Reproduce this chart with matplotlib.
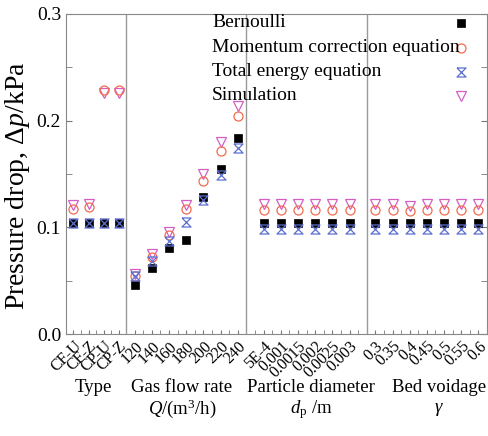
import numpy as np
import matplotlib
matplotlib.use("Agg")
import matplotlib.pyplot as plt
from matplotlib.path import Path

plt.rcParams["font.family"] = ["Liberation Serif", "DejaVu Serif"]
plt.rcParams["mathtext.fontset"] = "custom"
plt.rcParams["mathtext.rm"] = "Liberation Serif"
plt.rcParams["mathtext.it"] = "Liberation Serif:italic"

# groups along the x axis
type_labels = ["CF-U", "CF-Z", "CP-U", "CP-Z"]
gas_labels = ["120", "140", "160", "180", "200", "220", "240"]
dp_labels = ["5E-4", "0.001", "0.0015", "0.002", "0.0025", "0.003"]
void_labels = ["0.3", "0.35", "0.4", "0.45", "0.5", "0.55", "0.6"]

# pressure drop (kPa), per group
bern_type = [0.104, 0.104, 0.104, 0.104]
bern_gas = [0.046, 0.062, 0.081, 0.088, 0.128, 0.155, 0.184]
bern_dp = [0.104, 0.104, 0.104, 0.104, 0.104, 0.104]
bern_void = [0.104, 0.104, 0.104, 0.104, 0.104, 0.104, 0.104]

mom_type = [0.117, 0.119, 0.229, 0.229]
mom_gas = [0.054, 0.072, 0.093, 0.117, 0.143, 0.172, 0.204]
mom_dp = [0.116, 0.116, 0.116, 0.116, 0.116, 0.116]
mom_void = [0.116, 0.116, 0.115, 0.116, 0.116, 0.116, 0.116]

tot_type = [0.104, 0.104, 0.104, 0.104]
tot_gas = [0.054, 0.068, 0.087, 0.105, 0.126, 0.149, 0.174]
tot_dp = [0.098, 0.098, 0.098, 0.098, 0.098, 0.098]
tot_void = [0.098, 0.098, 0.098, 0.098, 0.098, 0.098, 0.098]

sim_type = [0.121, 0.122, 0.226, 0.226]
sim_gas = [0.056, 0.075, 0.096, 0.121, 0.150, 0.180, 0.214]
sim_dp = [0.122, 0.122, 0.122, 0.122, 0.122, 0.122]
sim_void = [0.122, 0.122, 0.120, 0.122, 0.122, 0.122, 0.122]

# layout of the groups: width, number of slots, offset of first point (in slots)
widths = [3.5, 7, 7, 7]
slots = [4, 7, 7, 7]
offsets = [0.5, 0.5, 1.0, 0.5]
group_labels = [type_labels, gas_labels, dp_labels, void_labels]

xs, minor, bounds = [], [], [0.0]
start = 0.0
for w, n, off, labs in zip(widths, slots, offsets, group_labels):
    s = w / n
    xs += [start + (off + k) * s for k in range(len(labs))]
    minor += [start + j * s / 2 for j in range(2 * n + 1)]
    start += w
    bounds.append(start)
xs = np.array(xs)
ticklabels = sum(group_labels, [])

bern = bern_type + bern_gas + bern_dp + bern_void
mom = mom_type + mom_gas + mom_dp + mom_void
tot = tot_type + tot_gas + tot_dp + tot_void
sim = sim_type + sim_gas + sim_dp + sim_void

# hourglass marker for total energy
hg = Path([(-1, 1), (1, 1), (-1, -1), (1, -1), (-1, 1)],
          [Path.MOVETO, Path.LINETO, Path.LINETO, Path.LINETO, Path.LINETO])

C_MOM = "#f26a4f"
C_TOT = "#5c6fd0"
C_SIM = "#d35fc4"

fig = plt.figure(figsize=(4.88, 4.36), dpi=100)
ax = fig.add_axes([0.1352, 0.2339, 0.998 - 0.1352, 0.9679 - 0.2339])

series = [
    ("Simulation", sim, dict(marker="v", ms=7, mfc="none", mec=C_SIM, mew=0.9)),
    ("Momentum correction equation", mom, dict(marker="o", ms=6.5, mfc="none", mec=C_MOM, mew=0.9)),
    ("Bernoulli", bern, dict(marker="s", ms=5.5, mfc="black", mec="black", mew=0.5)),
    ("Total energy equation", tot, dict(marker=hg, ms=6.5, mfc="none", mec=C_TOT, mew=0.9)),
]
for name, y, kw in series:
    ax.plot(xs, y, linestyle="none", **kw)

for b in bounds[1:-1]:
    ax.axvline(b, color="#999999", lw=1.0)

ax.set_xlim(bounds[0], bounds[-1])
ax.set_ylim(0, 0.3)
ax.set_yticks([0.0, 0.1, 0.2, 0.3])
ax.set_yticks([0.05, 0.15, 0.25], minor=True)
ax.set_yticklabels(["0.0", "0.1", "0.2", "0.3"], fontsize=14)
ax.set_xticks(xs)
ax.set_xticks(minor, minor=True)
ax.set_xticklabels(ticklabels, rotation=45, ha="right", rotation_mode="anchor", fontsize=11.5)
ax.tick_params(axis="x", which="both", direction="in", length=3, pad=3, color="#777777")
ax.tick_params(axis="y", which="both", direction="in", right=True, length=4, color="#777777")
for sp in ax.spines.values():
    sp.set_color("#888888")
ax.set_ylabel(r"Pressure drop, $\Delta p$/kPa", fontsize=20)
ax.yaxis.set_label_coords(-0.08, 0.4625)

# legend: text on the left, marker on the right
legend_order = ["Bernoulli", "Momentum correction equation", "Total energy equation", "Simulation"]
style = {name: kw for name, _, kw in series}
ly = [0.972, 0.894, 0.819, 0.744]
for name, yy in zip(legend_order, ly):
    ax.text(0.347, yy, name, transform=ax.transAxes, fontsize=14, va="center", ha="left")
    ax.plot([0.938], [yy], transform=ax.transAxes, linestyle="none", **style[name])

# group captions under the axis (centres in pixels of the 488 px figure)
caps = [
    ("Type", None, 93),
    ("Gas flow rate", r"$Q$/(m$^3$/h)", 182),
    ("Particle diameter", r"$d_\mathrm{p}$ /m", 311),
    ("Bed voidage", r"$\gamma$", 439),
]
for t1, t2, px in caps:
    cx = (px - 66) / 421
    ax.text(cx, -0.168, t1, transform=ax.transAxes, fontsize=13.5, ha="center", va="center")
    if t2:
        ax.text(cx, -0.235, t2, transform=ax.transAxes, fontsize=13.5, ha="center", va="center")

fig.savefig("out.png", dpi=100)
